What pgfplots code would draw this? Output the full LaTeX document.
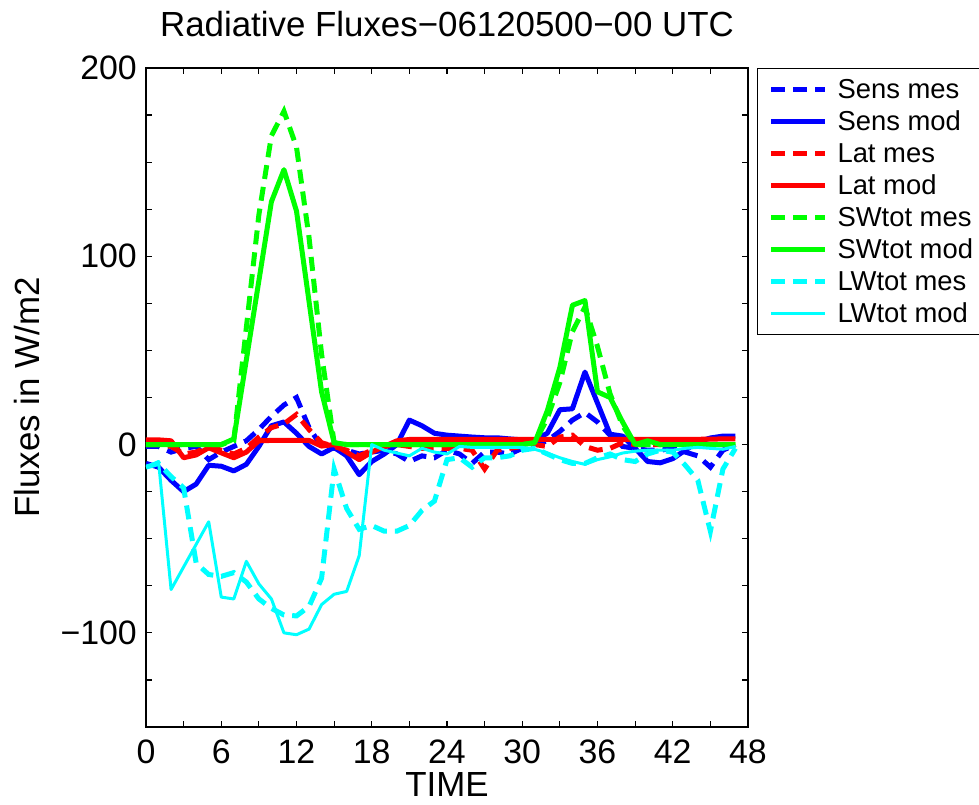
\documentclass[border=0pt]{standalone}
\usepackage{fontspec}
\setmainfont{Liberation Sans}
\usepackage{pgfplots}
\usepackage{pgfplotstable}
\pgfplotsset{compat=1.18}
\definecolor{mblue}{RGB}{0,0,255}
\definecolor{mred}{RGB}{255,0,0}
\definecolor{mgreen}{RGB}{0,255,0}
\definecolor{mcyan}{RGB}{0,255,255}

% hourly values, W/m2
\pgfplotstableread{
h  smes  smod  lmes  lmod  swmes swmod lwmes  lwmod
0  -1    -10    0    2.5   0     0     -12    -12
1  -1    -12    0    2.5   0     0     -10    -9
2  -4    -19   -1    2     0     0     -17    -77
3  -2    -25   -5   -7     0     0     -23    -65
4  -1    -21   -4   -5.5   0     0     -63    -53
5  -8    -11   -1   -1.7   0     0     -69    -41
6  -4    -11.5 -3   -4.4   0     0     -70    -81
7  -1    -14   -5   -7     2     3     -68    -82
8   2    -10.5 -2   -4     62    45    -73    -62
9   8    -1     4    2     122   87    -82    -74
10  15    10    9    2.2   164   129   -87    -82
11  21    12    11   2.2   177   146   -90.5  -100
12  25    6     16   2.2   158   124   -91    -101
13  9    -1     8    2.2   110   76    -86    -98
14 -1    -5     1   -0.8   48    28    -71    -85
15 -2    -1.5  -1    0     1     1     -13    -79.5
16 -3    -6    -3   -4     0     0     -34    -78
17 -5    -16   -6   -8     0     0     -45    -59
18 -4    -9    -3   -4     0     0     -43     0
19 -3    -5    -1   -1     0     0     -46    -3
20 -5     0     0    2     0     0     -46    -4.5
21 -9     13   -1    2.7   0     0     -43    -6
22 -6     10   -2    2.7   0     0     -35    -2
23 -7     6    -2    2.7   0     0     -30    -4
24 -3     5    -2    2.7   0     0     -8     -5
25 -5     4.5  -2    2.7   0     0     -7     -1
26 -10    4    -3    2.7   0     0     -12    -1.5
27 -4     3.6  -13   2.7   0     0     -7     -1.5
28 -4     3.6  -3    2.7   0     0     -7     -1.5
29 -5     3    -2    2.7   0     0     -6     -1.5
30 -2     2.5  -1    2.7   0     0     -3     -1.5
31  0     2.5   0    2.7   1     1     -2     -2.5
32  2     6    -1    2.7   14    18    -5     -4.5
33  7     18.5  4    2.7   33    41    -8     -7
34  13    19    5    2.7   60    74    -10    -9
35  17    38.5 -1    2.7   73    76.5  -10    -10.5
36  12    22   -3    2.7   52    28    -7     -8
37  5     5.5  -2    2.7   27    25    -5     -6.5
38 -1     4.5   1    2.7   10    12    -8     -4.5
39 -2    -2     0    2.7   0     0     -9     -3.5
40 -3    -9     0    2.7   0     2     -5     -3
41 -3    -9.7   0    2.7   0     0     -3     -3
42 -2    -7.5   1    2.7   0     0     -4     -3
43 -4    -3     1    2.8   0     0     -11    -2
44 -6     1.5   1    2.8   0     0     -19    -1.5
45 -12    3.5   0    2.9   0     0     -46    -2
46 -3     4.5   0    3     0     0     -13    -2.5
47  0     4.5  -1    3     0     0     -2     -1
}\fluxes

\begin{document}
\begin{tikzpicture}
\begin{axis}[
  name=ax,
  width=602bp, height=659bp, scale only axis,
  xmin=0, xmax=48, ymin=-150, ymax=200,
  xtick={0,6,...,48}, xticklabels={0,6,12,18,24,30,36,42,48},
  ytick={-100,0,100,200}, yticklabels={−100,0,100,200},
  minor xtick={3,9,...,45},
  minor ytick={-125,-75,-50,-25,25,50,75,125,150,175},
  tick align=inside, major tick length=6bp, minor tick length=6bp,
  every tick/.style={black, line width=1.2bp},
  axis line style={line width=1.6bp},
  tick label style={font=\fontsize{34}{40}\selectfont},
  xticklabel style={anchor=base, yshift=-36bp},
  yticklabel style={anchor=east, inner sep=0pt, xshift=-9bp},
  title={Radiative Fluxes−06120500−00 UTC},
  title style={font=\fontsize{35}{42}\selectfont, inner sep=0pt,
    at={(axis description cs:0.5,1.038)}, anchor=base},
  xlabel={TIME},
  xlabel style={font=\fontsize{35}{42}\selectfont, inner sep=0pt,
    at={(axis description cs:0.5,-0.1062)}, anchor=base},
  ylabel={Fluxes in W/m2},
  ylabel style={font=\fontsize{35}{42}\selectfont, inner sep=0pt,
    at={(axis description cs:-0.1777,0.5)}, anchor=base},
  legend cell align=left,
  legend image code/.code={\draw[#1] (0bp,0bp) -- (54bp,0bp);},
  legend style={at={(axis description cs:1.015,1)}, anchor=north west,
    draw=black, line width=1bp, font=\fontsize{27.5}{32}\selectfont,
    inner xsep=11bp, inner ysep=8bp, row sep=6bp,
    nodes={inner sep=0pt, text height=22bp, text depth=4bp},
    /tikz/every odd column/.append style={column sep=10bp}},
  mes/.style={line width=5bp, dash pattern=on 14bp off 8bp},
  mod/.style={line width=5bp, line join=round},
  no markers,
]
\addplot[mblue, mes] table[x=h, y=smes] {\fluxes};
\addlegendentry{Sens mes}
\addplot[mblue, mod] table[x=h, y=smod] {\fluxes};
\addlegendentry{Sens mod}
\addplot[mred, mes] table[x=h, y=lmes] {\fluxes};
\addlegendentry{Lat mes}
\addplot[mred, mod] table[x=h, y=lmod] {\fluxes};
\addlegendentry{Lat mod}
\addplot[mgreen, mes] table[x=h, y=swmes] {\fluxes};
\addlegendentry{SWtot mes}
\addplot[mgreen, mod] table[x=h, y=swmod] {\fluxes};
\addlegendentry{SWtot mod}
\addplot[mcyan, mes] table[x=h, y=lwmes] {\fluxes};
\addlegendentry{LWtot mes}
\addplot[mcyan, line width=3bp, line join=round] table[x=h, y=lwmod] {\fluxes};
\addlegendentry{LWtot mod}
\end{axis}
\pgfresetboundingbox
\path[use as bounding box] (ax.south west) ++(-146bp,-78bp) rectangle ++(979bp,805bp);
\end{tikzpicture}
\end{document}
